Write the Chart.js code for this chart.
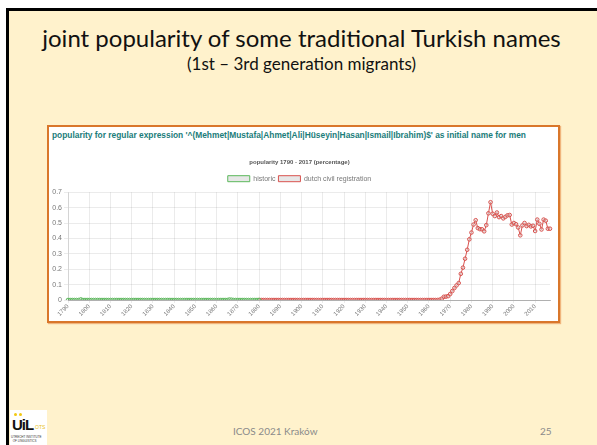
<!DOCTYPE html>
<html>
<head>
<meta charset="utf-8">
<script src="https://cdn.jsdelivr.net/npm/chart.js@4.4.1/dist/chart.umd.min.js"></script>
<style>
  html, body { margin: 0; padding: 0; background: #fff; }
  body { width: 597px; height: 445px; position: relative; overflow: hidden; font-family: Lato, "Open Sans", sans-serif; }
  #slide { position: absolute; left: 6px; top: 8px; width: 591px; height: 437px; background: #FFF2CC; border-left: 3px solid #000; border-top: 3px solid #000; box-sizing: border-box; }
  #title { position: absolute; left: 0; top: 23px; width: 603px; text-align: center; font-size: 24px; color: #111; font-family: Lato, sans-serif; }
  #subtitle { position: absolute; left: 0; top: 53px; width: 603px; text-align: center; font-size: 17px; color: #111; font-family: Lato, sans-serif; }
  #box { position: absolute; left: 47px; top: 125px; width: 513px; height: 198px; background: #fff; border: 2px solid #D9772B; box-sizing: border-box; box-shadow: 1px 1px 1px rgba(230,140,70,0.6); }
  #boxtitle { position: absolute; left: 3px; top: 3px; font: bold 8.4px "Liberation Sans", Arial, sans-serif; color: #1B7D7A; white-space: nowrap; }
  #chartwrap { position: absolute; left: 49px; top: 150px; width: 509px; height: 171px; }
  #footer { position: absolute; left: 233px; top: 425px; font-size: 10px; color: #8a8a8a; font-family: Lato, sans-serif; }
  #page { position: absolute; left: 540px; top: 425px; font-size: 10px; color: #8a8a8a; font-family: Lato, sans-serif; }
  #logo { position: absolute; left: 10px; top: 410px; width: 37px; height: 35px; background: #fff; }
  #logo .uil { position: absolute; left: 2px; top: 6px; font: bold 15px "Liberation Sans", Arial, sans-serif; color: #111; letter-spacing: -1px; }
  #logo .ots { position: absolute; left: 25px; top: 14px; font: 5px "Liberation Sans", Arial, sans-serif; color: #E8C21A; }
  #logo .dot { position: absolute; width: 3px; height: 3px; border-radius: 50%; background: #F2C811; top: 3px; }
  #logo .small { position: absolute; left: 1px; top: 25px; font: 3px "Liberation Sans", Arial, sans-serif; color: #333; line-height: 4px; white-space: nowrap; }
</style>
</head>
<body>
<div id="slide"></div>
<div id="title">joint popularity of some traditional Turkish names</div>
<div id="subtitle">(1st – 3rd generation migrants)</div>
<div id="box"><div id="boxtitle">popularity for regular expression '^(Mehmet|Mustafa|Ahmet|Ali|Hüseyin|Hasan|Ismail|Ibrahim)$' as initial name for men</div></div>
<div id="chartwrap"><canvas id="c"></canvas></div>
<div id="logo">
  <div class="dot" style="left:4px"></div><div class="dot" style="left:9px"></div>
  <div class="uil">UiL</div><div class="ots">OTS</div>
  <div class="small">UTRECHT INSTITUTE<br>&nbsp;&nbsp;OF LINGUISTICS</div>
</div>
<div id="footer">ICOS 2021 Kraków</div>
<div id="page">25</div>
<script>
// ---- data ----
const firstYear = 1790;
const lastYear = 2017;
const chartTitle = "popularity 1790 - 2017 (percentage)";
const seriesNames = ["historic", "dutch civil registration"];

// historic: 1790 .. 1880
const historicStart = 1790;
const historicValues = [
  0,0,0,0,0,0,0.004,0,0,0,          // 1790s
  0,0,0,0,0,0,0,0,0,0,              // 1800s
  0,0,0,0,0,0,0,0,0,0,              // 1810s
  0,0,0,0,0,0,0,0,0,0,              // 1820s
  0,0,0,0,0,0,0,0,0,0,              // 1830s
  0,0,0,0,0,0,0,0,0,0,              // 1840s
  0,0,0,0,0,0,0,0,0,0,              // 1850s
  0,0,0,0,0,0,0.003,0.002,0,0,      // 1860s
  0,0,0,0,0,0,0,0,0,0,              // 1870s
  0                                 // 1880
];

// dutch civil registration: 1880 .. 2017
const civilStart = 1880;
const civilValues = [
  0,0,0,0,0,0,0,0,0,0,              // 1880s
  0,0,0,0,0,0,0,0,0,0,              // 1890s
  0,0,0,0,0,0,0,0,0,0,              // 1900s
  0,0,0,0,0,0,0,0,0,0,              // 1910s
  0,0,0,0,0,0,0,0,0,0,              // 1920s
  0,0,0,0,0,0,0,0,0,0,              // 1930s
  0,0,0,0,0,0,0,0,0,0,              // 1940s
  0,0,0,0,0,0,0,0,0,0,              // 1950s
  0,0,0,0,0,0.002,0.008,0.021,0.022,0.025, // 1960s
  0.039,0.058,0.078,0.095,0.11,0.17,0.21,0.268,0.326,0.394,   // 1970s
  0.438,0.49,0.518,0.467,0.46,0.459,0.446,0.486,0.563,0.635,  // 1980s
  0.56,0.545,0.568,0.538,0.545,0.53,0.54,0.55,0.552,0.49,     // 1990s
  0.5,0.492,0.471,0.42,0.484,0.5,0.48,0.488,0.478,0.482,      // 2000s
  0.448,0.522,0.495,0.458,0.522,0.515,0.463,0.463              // 2010-2017
];

const yTicks = [0, 0.1, 0.2, 0.3, 0.4, 0.5, 0.6, 0.7];

// ---- build ----
const years = [];
for (let y = firstYear; y <= lastYear; y++) years.push(String(y));
const toPoints = (start, vals) => vals.map((v, i) => ({ x: String(start + i), y: v }));

new Chart(document.getElementById('c'), {
  type: 'line',
  data: {
    labels: years,
    datasets: [
      {
        label: seriesNames[0],
        data: toPoints(historicStart, historicValues),
        borderColor: 'rgb(92,184,92)',
        backgroundColor: 'rgba(215,215,215,0.6)',
        pointBorderColor: 'rgb(92,184,92)',
        pointBackgroundColor: 'rgba(220,220,220,0.5)',
        borderWidth: 1,
        pointRadius: 1.8,
        pointBorderWidth: 1,
        fill: false,
        tension: 0
      },
      {
        label: seriesNames[1],
        data: toPoints(civilStart, civilValues),
        borderColor: 'rgb(217,83,79)',
        backgroundColor: 'rgba(215,215,215,0.6)',
        pointBorderColor: 'rgb(217,83,79)',
        pointBackgroundColor: 'rgba(220,220,220,0.5)',
        borderWidth: 1,
        pointRadius: 1.8,
        pointBorderWidth: 1,
        fill: false,
        tension: 0
      }
    ]
  },
  options: {
    responsive: true,
    maintainAspectRatio: false,
    animation: false,
    layout: { padding: { left: 0, right: 8, top: 0, bottom: 0 } },
    plugins: {
      title: {
        display: true,
        text: chartTitle,
        color: '#555',
        font: { family: '"Liberation Sans", Arial, sans-serif', size: 6, weight: 'bold' },
        padding: { top: 9, bottom: 6 }
      },
      legend: {
        labels: {
          boxWidth: 22,
          boxHeight: 6,
          color: '#777',
          padding: 3,
          font: { family: '"Liberation Sans", Arial, sans-serif', size: 7 }
        }
      },
      tooltip: { enabled: false }
    },
    scales: {
      x: {
        afterFit: (axis) => { axis.height = 21; },
        grid: { color: 'rgba(0,0,0,0.08)', tickLength: 3 },
        border: { color: 'rgba(0,0,0,0.25)' },
        ticks: {
          autoSkip: false,
          maxRotation: 45,
          minRotation: 45,
          padding: 0,
          color: '#777',
          font: { family: '"Liberation Sans", Arial, sans-serif', size: 6 },
          callback: function(val) {
            const lab = this.getLabelForValue(val);
            return (Number(lab) % 10 === 0) ? lab : null;
          }
        }
      },
      y: {
        min: 0,
        max: 0.7,
        afterBuildTicks: (axis) => { axis.ticks = yTicks.map(v => ({ value: v })); },
        afterFit: (axis) => { axis.width = 19; },
        grid: { color: 'rgba(0,0,0,0.08)', tickLength: 4 },
        border: { color: 'rgba(0,0,0,0.1)' },
        ticks: {
          color: '#777',
          padding: 2,
          font: { family: '"Liberation Sans", Arial, sans-serif', size: 7 }
        }
      }
    }
  }
});
</script>
</body>
</html>
